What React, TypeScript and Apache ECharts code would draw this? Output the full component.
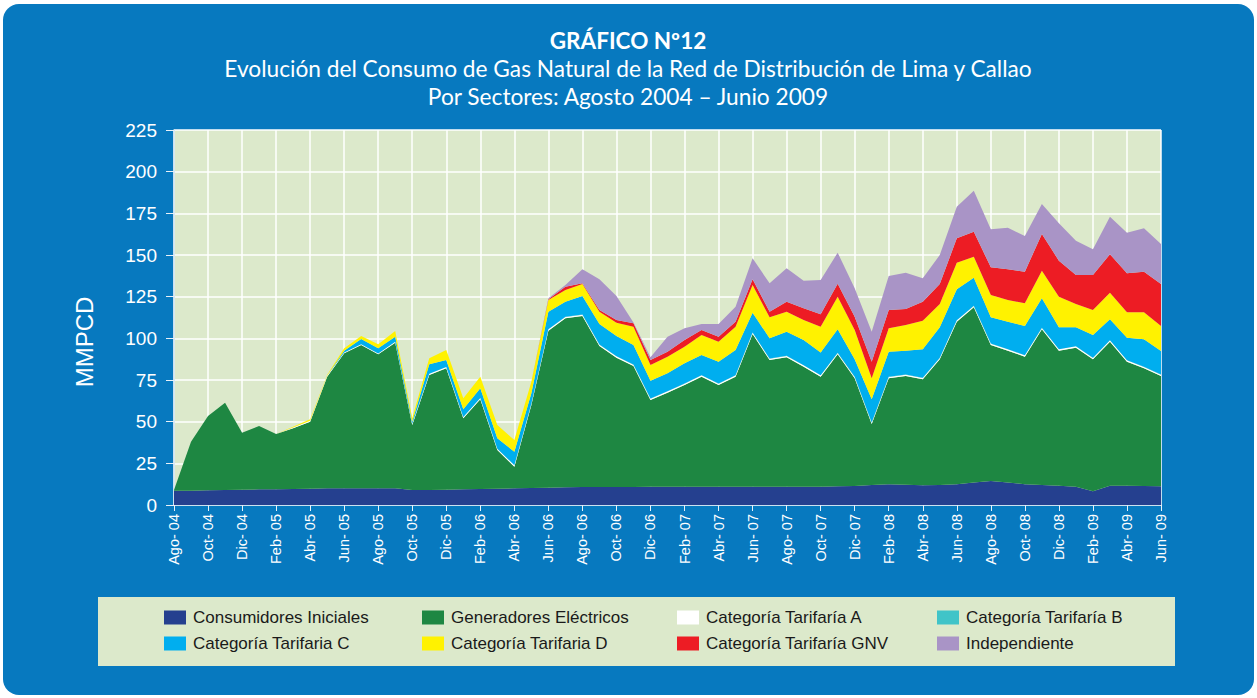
import React, { useEffect, useRef } from 'react';
import * as echarts from 'echarts';

const categories = [
  'Ago- 04', 'Sep- 04', 'Oct- 04', 'Nov- 04', 'Dic- 04', 'Ene- 05', 'Feb- 05', 'Mar- 05', 'Abr- 05', 'May- 05',
  'Jun- 05', 'Jul- 05', 'Ago- 05', 'Sep- 05', 'Oct- 05', 'Nov- 05', 'Dic- 05', 'Ene- 06', 'Feb- 06', 'Mar- 06',
  'Abr- 06', 'May- 06', 'Jun- 06', 'Jul- 06', 'Ago- 06', 'Sep- 06', 'Oct- 06', 'Nov- 06', 'Dic- 06', 'Ene- 07',
  'Feb- 07', 'Mar- 07', 'Abr- 07', 'May- 07', 'Jun- 07', 'Jul- 07', 'Ago- 07', 'Sep- 07', 'Oct- 07', 'Nov- 07',
  'Dic- 07', 'Ene- 08', 'Feb- 08', 'Mar- 08', 'Abr- 08', 'May- 08', 'Jun- 08', 'Jul- 08', 'Ago- 08', 'Sep- 08',
  'Oct- 08', 'Nov- 08', 'Dic- 08', 'Ene- 09', 'Feb- 09', 'Mar- 09', 'Abr- 09', 'May- 09', 'Jun- 09',
];

const consumidoresIniciales = [
  8.5, 8.6, 8.8, 9, 9.2, 9.4, 9.5, 9.6, 9.8, 10,
  10, 10, 10, 10, 9, 9, 9.2, 9.4, 9.6, 9.8,
  10, 10.2, 10.4, 10.6, 10.8, 10.8, 10.8, 10.8, 11, 11,
  11, 11, 11, 11, 11, 11, 11, 11, 11, 11.2,
  11.4, 12, 12.5, 12.2, 11.8, 12, 12.5, 13.5, 14.4, 13.5,
  12.5, 12, 11.5, 11, 8.2, 11.6, 11.6, 11.4, 11.2,
];
const generadoresElectricos = [
  0.5, 29.4, 44.6, 52.4, 34.2, 38, 33.1, 36.4, 40.2, 67,
  81, 86, 80.4, 87.4, 39, 69, 72.8, 42.6, 53.8, 23.2,
  13, 49.8, 94.2, 101.4, 102.6, 84.6, 77.6, 72.6, 52, 56.4,
  61, 66, 61, 66, 91.6, 76, 77.6, 72, 66, 79.2,
  64.6, 36.6, 63.5, 65.2, 63.6, 75.4, 97.5, 105.1, 81.6, 79.1,
  76.5, 93.4, 81.1, 83.4, 79.2, 86.4, 74.4, 70.6, 66.2,
];
const categoriaA = [
  0, 0, 0, 0, 0, 0, 0, 0.5, 0.5, 0.5,
  0.5, 0.5, 0.5, 0.5, 0.8, 0.8, 0.8, 0.8, 0.8, 0.8,
  0.8, 0.8, 0.8, 0.8, 0.8, 0.8, 0.8, 0.8, 0.8, 0.8,
  0.8, 0.8, 0.8, 0.8, 0.8, 0.8, 0.8, 0.8, 0.8, 0.8,
  0.8, 0.8, 0.8, 0.8, 0.8, 0.8, 0.8, 0.8, 0.8, 0.8,
  0.8, 0.8, 0.8, 0.8, 0.8, 0.8, 0.8, 0.8, 0.8,
];
const categoriaB = [
  0, 0, 0, 0, 0, 0, 0, 0, 0, 0,
  0, 0, 0, 0, 0, 0, 0, 0, 0, 0,
  0.1, 0.1, 0.1, 0.1, 0.1, 0.1, 0.1, 0.1, 0.1, 0.1,
  0.1, 0.1, 0.1, 0.1, 0.1, 0.1, 0.1, 0.1, 0.1, 0.1,
  0.1, 0.1, 0.1, 0.1, 0.1, 0.1, 0.1, 0.1, 0.1, 0.1,
  0.1, 0.1, 0.1, 0.1, 0.1, 0.1, 0.1, 0.1, 0.1,
];
const categoriaC = [
  0, 0, 0, 0, 0, 0, 0, 0, 0.1, 0,
  1, 3.1, 3.1, 3.1, 1.2, 5.6, 4.2, 4.6, 5.8, 6.2,
  8.1, 6.1, 10.5, 9.1, 11.1, 12.3, 12.1, 11.7, 10.7, 10.7,
  12.1, 12.1, 13.1, 15.1, 11.9, 12.1, 14.5, 15.1, 13.6, 14.2,
  10.5, 13.9, 15.1, 14.3, 17.1, 18.3, 18.5, 16.9, 15.7, 16.5,
  17.5, 17.7, 13.1, 11.3, 13.7, 12.5, 13.5, 16.5, 14.1,
];
const categoriaD = [
  0, 0, 0, 0, 0, 0, 0, 0.5, 0.8, 0.5,
  1.5, 1.8, 2.4, 3.4, 2, 3.6, 6, 6.6, 7, 8,
  7, 7, 7, 7, 7.2, 7.4, 8, 11, 9.4, 10,
  10, 12, 12, 14, 16.6, 12.6, 12, 12, 15.5, 19.5,
  17.6, 12.6, 14, 15.4, 17.2, 14, 16, 12.6, 13.4, 13,
  13.6, 16.6, 18.4, 14, 15, 16, 15.2, 16.2, 15,
];
const categoriaGNV = [
  0, 0, 0, 0, 0, 0, 0, 0, 0, 0,
  0, 0, 0, 0, 0, 0, 0, 0, 0, 0,
  0, 0, 0.5, 2, 0.4, 1, 1.6, 2, 3, 3,
  4, 3, 3, 3, 3.4, 3.4, 6, 7, 7.5, 7.8,
  8, 10, 11, 9.6, 11.4, 12, 14.6, 15, 16.6, 18.4,
  19, 22, 21.6, 17.4, 21, 23, 23.4, 24.4, 25.2,
];
const independiente = [
  0, 0, 0, 0, 0, 0, 0, 0, 0, 0,
  0, 0, 0, 0, 0, 0, 0, 0, 0, 0,
  0, 0, 0.5, 1, 8.4, 18.4, 14.4, 0.5, 1.6, 9,
  7, 3.6, 7.6, 9, 12.6, 17, 20, 16.6, 20.5, 18.6,
  17, 18, 20.4, 21.8, 14, 17.4, 19, 24.6, 22.8, 25,
  21.4, 18, 22.4, 20.6, 15.4, 22.6, 24.4, 26, 24,
];

const seriesNames = [
  'Consumidores Iniciales', 'Generadores Eléctricos', 'Categoría Tarifaría A', 'Categoría Tarifaría B',
  'Categoría Tarifaria C', 'Categoría Tarifaria D', 'Categoría Tarifaría GNV', 'Independiente',
];
const seriesData = [
  consumidoresIniciales, generadoresElectricos, categoriaA, categoriaB,
  categoriaC, categoriaD, categoriaGNV, independiente,
];
const seriesColors = ['#25408f', '#1e8742', '#ffffff', '#40c4c8', '#00aeef', '#fff200', '#ed1c24', '#a994c6'];

const yTicks = { min: 0, max: 225, interval: 25 };

const FONT = "'Liberation Sans', Arial, sans-serif";
const TITLE_FONT = "Lato, 'Open Sans', sans-serif";

export default function App() {
  const ref = useRef<HTMLDivElement>(null);
  useEffect(() => {
    const chart = echarts.init(ref.current!, null, { renderer: 'svg' });
    const legendCols = [
      { left: 159, items: [seriesNames[0], seriesNames[4]] },
      { left: 417, items: [seriesNames[1], seriesNames[5]] },
      { left: 672, items: [seriesNames[2], seriesNames[6]] },
      { left: 932, items: [seriesNames[3], seriesNames[7]] },
    ];
    const titleText = (text: string, y: number, font: string) => ({
      type: 'text', x: 628, y,
      style: { text, fill: '#fff', font, lineHeight: 22, align: 'center', verticalAlign: 'middle' },
    });
    chart.setOption({
      animation: false,
      backgroundColor: 'transparent',
      graphic: [
        { type: 'rect', shape: { x: 98, y: 597, width: 1077, height: 69 }, style: { fill: '#dce9cb' }, z: -1 },
        titleText('GRÁFICO Nº12', 40, `bold 22.5px ${TITLE_FONT}`),
        titleText('Evolución del Consumo de Gas Natural de la Red de Distribución de Lima y Callao', 68, `22.7px ${TITLE_FONT}`),
        titleText('Por Sectores: Agosto 2004 – Junio 2009', 96, `22.7px ${TITLE_FONT}`),
        { type: 'text', x: 84, y: 342, rotation: Math.PI / 2, style: { text: 'MMPCD', fill: '#fff', font: `24px ${FONT}`, align: 'center', verticalAlign: 'middle' } },
      ],
      legend: legendCols.map((c) => ({
        orient: 'vertical',
        left: c.left,
        top: 604,
        itemWidth: 22,
        itemHeight: 14,
        itemGap: 9,
        icon: 'rect',
        data: c.items,
        textStyle: { color: '#1a1a1a', fontSize: 17, fontFamily: FONT, padding: [0, 0, 0, 2] },
        selectedMode: false,
      })),
      grid: {
        left: 174, right: 96, top: 130, bottom: 193,
        show: true, backgroundColor: '#dce9cb', borderWidth: 0,
      },
      xAxis: {
        type: 'category',
        data: categories,
        boundaryGap: false,
        axisLine: { lineStyle: { color: '#cfe2f0', width: 1.5 } },
        axisTick: { interval: 1, length: 6, lineStyle: { color: '#e8f1f8' } },
        axisLabel: { interval: 1, rotate: 90, color: '#fff', fontSize: 14.5, fontFamily: FONT, margin: 9 },
        splitLine: { show: true, interval: 1, lineStyle: { color: '#ffffff', width: 1.5 } },
      },
      yAxis: {
        type: 'value',
        min: yTicks.min, max: yTicks.max, interval: yTicks.interval,
        axisLine: { show: true, lineStyle: { color: '#cfe2f0', width: 1.5 } },
        axisTick: { show: true, length: 8, lineStyle: { color: '#e8f1f8' } },
        axisLabel: { color: '#fff', fontSize: 19, fontFamily: FONT, margin: 17 },
        splitLine: { show: true, lineStyle: { color: '#ffffff', width: 1.5 } },
      },
      series: seriesNames.map((name, i) => ({
        name,
        type: 'line',
        stack: 'total',
        data: seriesData[i],
        symbol: 'none',
        lineStyle: { width: 0 },
        areaStyle: { color: seriesColors[i], opacity: 1 },
        itemStyle: { color: seriesColors[i] },
        z: 2,
      })),
    });
    return () => chart.dispose();
  }, []);
  return (
    <div style={{ position: 'absolute', left: 0, top: 0, width: 1257, height: 698, background: '#ffffff' }}>
      <div style={{ position: 'absolute', left: 3, top: 4, width: 1251, height: 691, background: '#0779bf', borderRadius: 16 }} />
      <div ref={ref} style={{ position: 'absolute', left: 0, top: 0, width: 1257, height: 698 }} />
    </div>
  );
}
